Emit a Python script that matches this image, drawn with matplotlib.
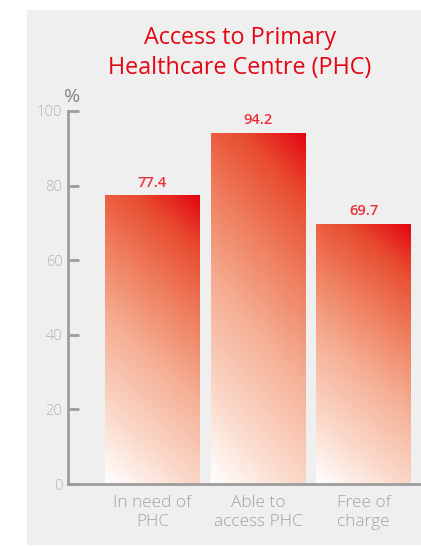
import numpy as np
import matplotlib
matplotlib.use("Agg")
import matplotlib.pyplot as plt
from matplotlib.colors import LinearSegmentedColormap
from matplotlib.patches import Rectangle

categories = ["In need of\nPHC", "Able to\naccess PHC", "Free of\ncharge"]
values = [77.4, 94.2, 69.7]
value_labels = ["77.4", "94.2", "69.7"]
yticks = [0, 20, 40, 60, 80, 100]
title = "Access to Primary\nHealthcare Centre (PHC)"

RED = "#e30613"
plt.rcParams['font.family'] = ['Open Sans', 'DejaVu Sans']

W, H = 421, 546
fig = plt.figure(figsize=(W / 100, H / 100), dpi=100)
fig.patch.set_facecolor("white")

# gray panel
fig.patches.append(Rectangle((27 / W, 1 - 545 / H), (421 - 27) / W, (545 - 10) / H,
                             transform=fig.transFigure, facecolor="#efefef",
                             edgecolor="none", zorder=-5))

ax_left, ax_right = 68 / W, 1.0
ax_bottom, ax_top = 1 - 484 / H, 1 - 111 / H
ax = fig.add_axes([ax_left, ax_bottom, ax_right - ax_left, ax_top - ax_bottom])
ax.set_zorder(2)
ax.patch.set_visible(False)

cmap = LinearSegmentedColormap.from_list("g", [
    (0.0, "#ffffff"), (0.2, "#fbd9ca"), (0.45, "#f5ae93"),
    (0.65, "#ef8060"), (0.85, "#e84c30"), (1.0, "#e30613")])

x = np.arange(len(categories))
width = 0.9
bars = ax.bar(x, values, width=width, color="none", edgecolor="none", zorder=2)

ny, nx = 200, 60
yn = np.linspace(0, 1, ny)[:, None]
xn = np.linspace(0, 1, nx)[None, :]
grad = 0.22 * xn + 0.78 * yn
for b in bars:
    x0, w, h = b.get_x(), b.get_width(), b.get_height()
    im = ax.imshow(grad, cmap=cmap, vmin=0, vmax=1, origin="lower",
                   extent=(x0, x0 + w, 0, h), aspect="auto", zorder=2,
                   interpolation="bilinear")
    im.set_clip_path(b)

for xi, v, lab in zip(x, values, value_labels):
    ax.annotate(lab, (xi, v), xytext=(0, 4), textcoords="offset points",
                ha="center", va="bottom", color="#e8303a", fontsize=10.5,
                fontweight="semibold", clip_on=False)

ax.set_xlim(-0.801, 2.545)
ax.set_ylim(0, 100)
ax.set_yticks(yticks)
ax.set_yticklabels([str(t) for t in yticks])
ax.set_xticks(x)
ax.set_xticklabels(categories, linespacing=1.25)

for s in ["top", "right"]:
    ax.spines[s].set_visible(False)
for s in ["left", "bottom"]:
    ax.spines[s].set_color("#9d9d9d")
    ax.spines[s].set_linewidth(2)
    ax.spines[s].set_zorder(3)
ax.tick_params(axis="y", direction="in", length=8, width=2, color="#9d9d9d",
               labelcolor="#b3b3b3", labelsize=10.5, pad=4)
ax.tick_params(axis="x", length=0, labelcolor="#a3a3a3", labelsize=12.4, pad=8)
for lbl in ax.get_yticklabels() + ax.get_xticklabels():
    lbl.set_fontweight("light")

fig.text(240 / W, 1 - 53 / H, title, ha="center", va="center", color=RED,
         fontsize=16.8, linespacing=1.35)
fig.text(72 / W, 1 - 97 / H, "%", ha="center", va="center", color="#858585",
         fontsize=14)

fig.savefig("out.png", dpi=100)
